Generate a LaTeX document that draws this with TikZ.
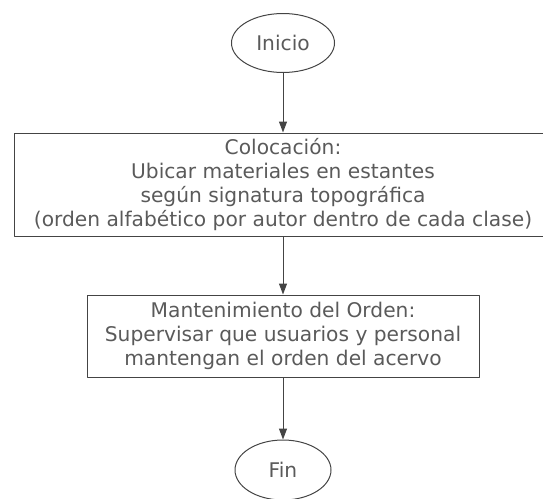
\documentclass[tikz,border=0pt]{standalone}
\usepackage{fontspec}
\setmainfont{DejaVu Sans}
\usetikzlibrary{shapes.geometric,arrows.meta}
\definecolor{tinta}{HTML}{5A5A5A}
\definecolor{trazo}{HTML}{444444}
\tikzset{
  terminal/.style={ellipse, draw=trazo, line width=1pt, minimum width=103pt, minimum height=59pt, inner sep=0pt},
  proceso/.style={rectangle, draw=trazo, line width=1pt, align=center, inner sep=0pt},
  flecha/.style={draw=trazo, line width=1pt, -{Triangle[length=11pt,width=8pt]}}
}
\begin{document}
\begin{tikzpicture}[x=1pt, y=-1pt, line cap=round, line join=round, text=tinta,
    font=\fontsize{20.2}{23.8}\selectfont]
  \useasboundingbox (0,0) rectangle (543,498);
  % --- inicio ---
  \node[terminal] (inicio) at (283,43) {Inicio};
  % --- colocacion ---
  \node[proceso, minimum width=538pt, minimum height=103pt] (coloc) at (283,184.5)
    {Colocación:\\Ubicar materiales en estantes\\según signatura topográfica\\(orden alfabético por autor dentro de cada clase)};
  % --- mantenimiento ---
  \node[proceso, minimum width=392pt, minimum height=82pt] (mant) at (283,336)
    {Mantenimiento del Orden:\\Supervisar que usuarios y personal\\mantengan el orden del acervo};
  % --- fin ---
  \node[terminal, minimum width=96pt, minimum height=60pt] (fin) at (283,470) {Fin};
  % flechas de arriba hacia abajo
  \draw[flecha] (inicio) -- (coloc);
  \draw[flecha] (coloc) -- (mant);
  \draw[flecha] (mant) -- (fin);
\end{tikzpicture}
\end{document}
